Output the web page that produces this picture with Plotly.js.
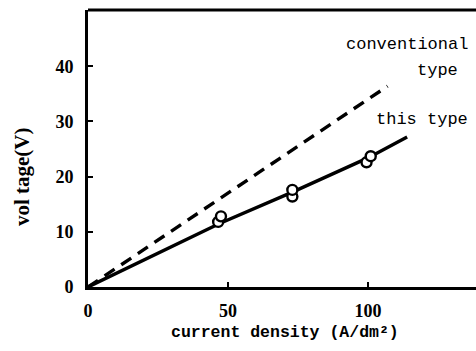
<!DOCTYPE html>
<html>
<head>
<meta charset="utf-8">
<script src="https://cdn.plot.ly/plotly-3.0.1.min.js"></script>
<style>html,body{margin:0;padding:0;background:#fff;}#chart{width:476px;height:351px;}</style>
</head>
<body>
<div id="chart"></div>
<script>
// Data
const thisTypeLineX = [0, 47, 73, 100, 114];
const thisTypeLineY = [0, 11.5, 17.2, 23.4, 27.2];
const thisTypePtsX = [46.5, 47.5, 73, 73, 99.5, 101];
const thisTypePtsY = [11.8, 12.8, 16.4, 17.6, 22.6, 23.7];
const convX = [0, 107];
const convY = [0, 36.4];
const xTicks = [0, 50, 100];
const yTicks = [0, 10, 20, 30, 40];

const traces = [
  {x: convX, y: convY, mode: 'lines', line: {color: '#000', width: 3.4, dash: '12px,8px'}, hoverinfo: 'skip'},
  {x: thisTypeLineX, y: thisTypeLineY, mode: 'lines', line: {color: '#000', width: 3.4}, hoverinfo: 'skip'},
  {x: thisTypePtsX, y: thisTypePtsY, mode: 'markers',
   marker: {symbol: 'circle', size: 10, color: '#fff', line: {color: '#000', width: 2.4}}, hoverinfo: 'skip'}
];

const layout = {
  width: 476, height: 351,
  margin: {l: 88, r: 0, t: 10, b: 64},
  paper_bgcolor: '#fff', plot_bgcolor: '#fff',
  showlegend: false,
  font: {family: 'Liberation Serif', color: '#000'},
  xaxis: {
    range: [0, 138.6], tickvals: xTicks, ticktext: xTicks.map(String),
    ticks: 'inside', ticklen: 5, tickwidth: 2, tickcolor: '#000',
    showline: true, linecolor: '#000', linewidth: 3, zeroline: false, showgrid: false,
    tickfont: {family: 'Liberation Serif', size: 18, color: '#000', weight: 'bold'},
    ticklabelstandoff: 5
  },
  yaxis: {
    range: [0, 50.2], tickvals: yTicks, ticktext: yTicks.map(String),
    ticks: 'inside', ticklen: 5, tickwidth: 2, tickcolor: '#000',
    showline: true, linecolor: '#000', linewidth: 3, zeroline: false, showgrid: false,
    tickfont: {family: 'Liberation Serif', size: 18, color: '#000', weight: 'bold'},
    ticklabelstandoff: 8
  },
  shapes: [
    {type: 'line', xref: 'paper', yref: 'paper', x0: 0, x1: 1, y0: 1, y1: 1, line: {color: '#000', width: 3}}
  ],
  annotations: [
    {x: 0.509, y: -0.166, xref: 'paper', yref: 'paper', text: 'current density (A/dm²)', showarrow: false,
     xanchor: 'center', yanchor: 'middle',
     font: {family: 'Liberation Mono', size: 16.5, color: '#000', weight: 'bold'}},
    {x: -0.17, y: 0.397, xref: 'paper', yref: 'paper', text: 'vol tage(V)', showarrow: false, textangle: -90,
     xanchor: 'center', yanchor: 'middle',
     font: {family: 'Liberation Serif', size: 21, color: '#000', weight: 'bold'}},
    {x: 0.985, y: 44.0, xref: 'paper', yref: 'y', text: 'conventional', showarrow: false, xanchor: 'right',
     font: {family: 'Liberation Mono', size: 17, color: '#000'}},
    {x: 0.96, y: 39.3, xref: 'paper', yref: 'y', text: 'type', showarrow: false, xanchor: 'right',
     font: {family: 'Liberation Mono', size: 17, color: '#000'}},
    {x: 0.985, y: 30.3, xref: 'paper', yref: 'y', text: 'this type', showarrow: false, xanchor: 'right',
     font: {family: 'Liberation Mono', size: 17, color: '#000'}}
  ]
};

Plotly.newPlot('chart', traces, layout, {displayModeBar: false, staticPlot: true});
</script>
</body>
</html>
